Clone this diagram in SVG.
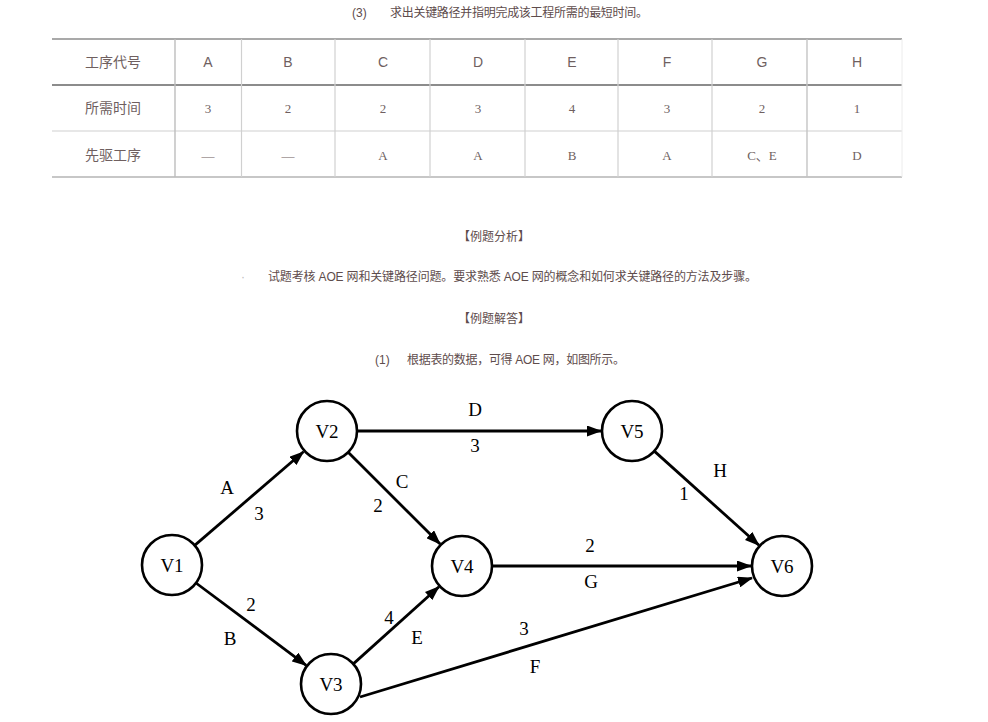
<svg xmlns="http://www.w3.org/2000/svg" width="988" height="722" viewBox="0 0 988 722">
<defs>
<style>
.cn{font-family:"Liberation Sans","Noto Sans CJK SC",sans-serif;font-size:12px;fill:#5e4c4c}
.th{font-family:"Liberation Sans","Noto Sans CJK SC",sans-serif;font-size:14px;fill:#6f5f5f;text-anchor:middle}
.ts{font-family:"Liberation Serif","Noto Sans CJK SC",serif;font-size:13px;fill:#6f5f5f;text-anchor:middle}
.g{stroke:#d0d0d0;stroke-width:1.2}
.node circle{fill:#fff;stroke:#000;stroke-width:2.6}
.node text,.lbl{font-family:"Liberation Serif",serif;font-size:19px;fill:#000;text-anchor:middle}
.edge{stroke:#000;stroke-width:2.8;fill:none;marker-end:url(#arr)}
</style>
<marker id="arr" markerUnits="userSpaceOnUse" markerWidth="15" markerHeight="11" refX="14" refY="5.5" orient="auto">
<path d="M0,0 L15,5.5 L0,11 z" fill="#000"/>
</marker>
</defs>
<rect width="988" height="722" fill="#fff"/>

<g id="header-text">
<text class="cn" x="352" y="17">(3)</text>
<text class="cn" x="390" y="17" textLength="258" lengthAdjust="spacing">求出关键路径并指明完成该工程所需的最短时间。</text>
</g>

<g id="table">
<line x1="52" y1="39" x2="902" y2="39" stroke="#8c8c8c" stroke-width="1.6"/>
<line x1="52" y1="85" x2="902" y2="85" stroke="#8c8c8c" stroke-width="2"/>
<line x1="52" y1="131" x2="902" y2="131" class="g"/>
<line x1="52" y1="177" x2="902" y2="177" stroke="#b5b5b5" stroke-width="1.4"/>
<line x1="175" y1="39" x2="175" y2="177" stroke="#bdbdbd" stroke-width="1.4"/>
<line x1="241.5" y1="39" x2="241.5" y2="177" class="g"/>
<line x1="335" y1="39" x2="335" y2="177" class="g"/>
<line x1="430" y1="39" x2="430" y2="177" class="g"/>
<line x1="525" y1="39" x2="525" y2="177" class="g"/>
<line x1="618" y1="39" x2="618" y2="177" class="g"/>
<line x1="712" y1="39" x2="712" y2="177" class="g"/>
<line x1="807" y1="39" x2="807" y2="177" stroke="#c4c4c4" stroke-width="1.4"/>
<line x1="902" y1="39" x2="902" y2="177" stroke="#ececec" stroke-width="1"/>
<text class="th" x="113" y="67">工序代号</text>
<text class="th" x="208" y="67">A</text>
<text class="th" x="288" y="67">B</text>
<text class="th" x="383" y="67">C</text>
<text class="th" x="478" y="67">D</text>
<text class="th" x="572" y="67">E</text>
<text class="th" x="667" y="67">F</text>
<text class="th" x="762" y="67">G</text>
<text class="th" x="857" y="67">H</text>
<text class="th" x="113" y="113">所需时间</text>
<text class="ts" x="208" y="113">3</text>
<text class="ts" x="288" y="113">2</text>
<text class="ts" x="383" y="113">2</text>
<text class="ts" x="478" y="113">3</text>
<text class="ts" x="572" y="113">4</text>
<text class="ts" x="667" y="113">3</text>
<text class="ts" x="762" y="113">2</text>
<text class="ts" x="857" y="113">1</text>
<text class="th" x="113" y="160">先驱工序</text>
<text class="ts" x="208" y="160">—</text>
<text class="ts" x="288" y="160">—</text>
<text class="ts" x="383" y="160">A</text>
<text class="ts" x="478" y="160">A</text>
<text class="ts" x="572" y="160">B</text>
<text class="ts" x="667" y="160">A</text>
<text class="ts" x="762" y="160">C、E</text>
<text class="ts" x="857" y="160">D</text>
</g>

<g id="middle-text">
<text class="cn" x="494" y="241" text-anchor="middle">【例题分析】</text>
<text class="cn" x="241" y="281" fill="#bbbbbb" style="fill:#bbbbbb">·</text>
<text class="cn" x="268" y="281" textLength="489" lengthAdjust="spacing">试题考核 AOE 网和关键路径问题。要求熟悉 AOE 网的概念和如何求关键路径的方法及步骤。</text>
<text class="cn" x="494" y="323" text-anchor="middle">【例题解答】</text>
<text class="cn" x="375" y="364">(1)</text>
<text class="cn" x="407" y="364" textLength="218" lengthAdjust="spacing">根据表的数据，可得 AOE 网，如图所示。</text>
</g>

<g id="connectors">
<line class="edge" x1="194.7" y1="545.4" x2="303.5" y2="451.8"/>
<line class="edge" x1="348.2" y1="452.2" x2="440.1" y2="544.1"/>
<line class="edge" x1="357" y1="431" x2="601" y2="431"/>
<line class="edge" x1="492" y1="566" x2="751" y2="566"/>
<line class="edge" x1="654.3" y1="451.1" x2="759" y2="545.3"/>
<line class="edge" x1="196" y1="583" x2="306.2" y2="665.4"/>
<line class="edge" x1="353.3" y1="663.9" x2="439" y2="586.7"/>
<line class="edge" x1="360" y1="697" x2="752" y2="578"/>
<text class="lbl" x="227" y="494">A</text>
<text class="lbl" x="259" y="520">3</text>
<text class="lbl" x="402" y="488">C</text>
<text class="lbl" x="378" y="512">2</text>
<text class="lbl" x="475" y="416">D</text>
<text class="lbl" x="475" y="452">3</text>
<text class="lbl" x="720" y="477">H</text>
<text class="lbl" x="684" y="500">1</text>
<text class="lbl" x="590" y="552">2</text>
<text class="lbl" x="591" y="588">G</text>
<text class="lbl" x="251" y="611">2</text>
<text class="lbl" x="230" y="645">B</text>
<text class="lbl" x="389" y="624">4</text>
<text class="lbl" x="417" y="644">E</text>
<text class="lbl" x="524" y="635">3</text>
<text class="lbl" x="535" y="673">F</text>
</g>

<g id="V1" class="node"><circle cx="172" cy="565" r="30"/><text x="172" y="572">V1</text></g>
<g id="V2" class="node"><circle cx="327" cy="431" r="30"/><text x="327" y="438">V2</text></g>
<g id="V3" class="node"><circle cx="331" cy="684" r="30"/><text x="331" y="691">V3</text></g>
<g id="V4" class="node"><circle cx="462" cy="566" r="30"/><text x="462" y="573">V4</text></g>
<g id="V5" class="node"><circle cx="632" cy="431" r="30"/><text x="632" y="438">V5</text></g>
<g id="V6" class="node"><circle cx="782" cy="566" r="30"/><text x="782" y="573">V6</text></g>
</svg>
